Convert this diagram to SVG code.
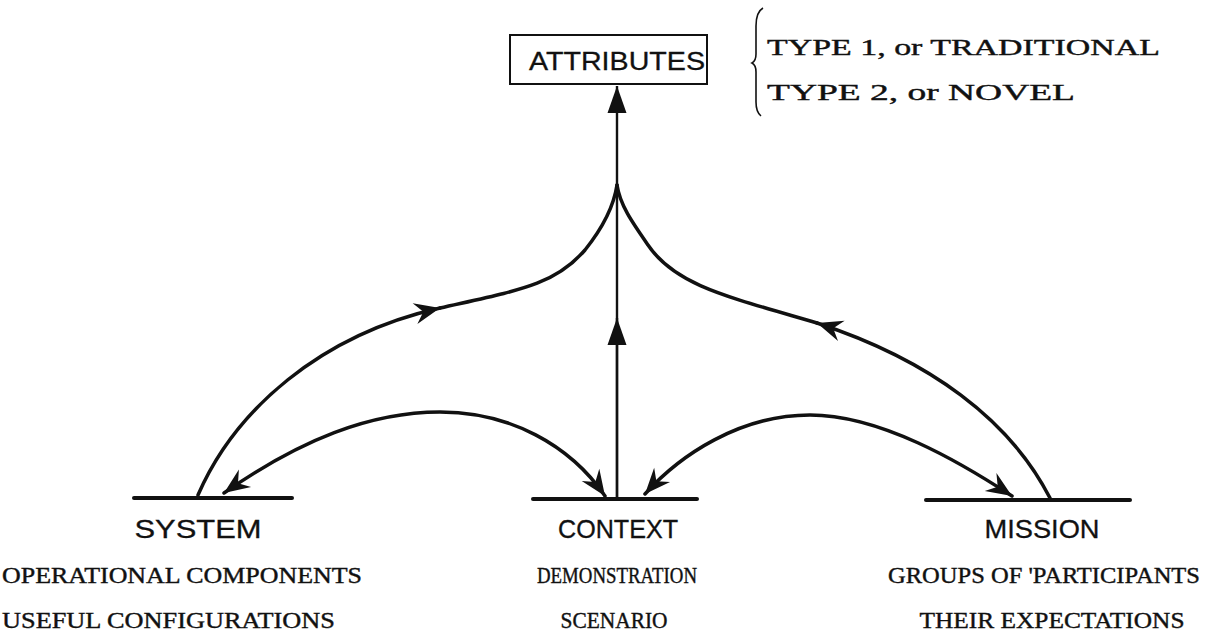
<svg xmlns="http://www.w3.org/2000/svg" width="1211" height="632" viewBox="0 0 1211 632">
<style>
.t{font-family:"Liberation Serif","Times New Roman",serif;font-size:23px;fill:#111;stroke:#111;stroke-width:0.4}
.h{font-family:"Liberation Sans",Arial,sans-serif;font-size:25px;fill:#111;stroke:#111;stroke-width:0.3}
.c{fill:none;stroke:#111;stroke-width:3.5;stroke-linecap:round}
.v{fill:none;stroke:#111;stroke-width:2.4}
.bar{stroke:#111;stroke-width:4;stroke-linecap:round}
</style>
<defs>
<marker id="ah" markerUnits="userSpaceOnUse" markerWidth="32" markerHeight="32" viewBox="-26 -13 30 26" refX="0" refY="0" orient="auto-start-reverse">
<path d="M0,0 L-24,-10 L-16,0 L-24,10 Z" fill="#111"/>
</marker>
<marker id="tri" markerUnits="userSpaceOnUse" markerWidth="32" markerHeight="32" viewBox="-28 -13 32 26" refX="0" refY="0" orient="auto">
<path d="M0,0 L-27,-9.5 L-27,9.5 Z" fill="#111"/>
</marker>
</defs>
<g id="attributes">
<rect x="510" y="35" width="197" height="49" fill="#fff" stroke="#111" stroke-width="2"/>
<text class="h" x="617" y="70" text-anchor="middle" textLength="176" lengthAdjust="spacingAndGlyphs">ATTRIBUTES</text>
</g>
<g id="types">
<path d="M763,8 Q756,12 756,26 L756,54 Q756,61 752,63 Q756,65 756,72 L756,102 Q756,112 761,116" fill="none" stroke="#111" stroke-width="1.6"/>
<text class="t" x="767" y="55" textLength="393" lengthAdjust="spacingAndGlyphs">TYPE 1, or TRADITIONAL</text>
<text class="t" x="767" y="100" textLength="308" lengthAdjust="spacingAndGlyphs">TYPE 2, or NOVEL</text>
</g>
<g id="system">
<line class="bar" x1="134" y1="498" x2="292" y2="498"/>
<text class="h" x="198" y="538" text-anchor="middle" textLength="127" lengthAdjust="spacingAndGlyphs">SYSTEM</text>
<text class="t" x="2" y="583" textLength="360" lengthAdjust="spacingAndGlyphs">OPERATIONAL COMPONENTS</text>
<text class="t" x="2" y="628" textLength="333" lengthAdjust="spacingAndGlyphs">USEFUL CONFIGURATIONS</text>
</g>
<g id="context">
<line class="bar" x1="533" y1="499" x2="697" y2="499"/>
<text class="h" x="618" y="538" text-anchor="middle" textLength="120" lengthAdjust="spacingAndGlyphs">CONTEXT</text>
<text class="t" x="617" y="583" text-anchor="middle" textLength="160" lengthAdjust="spacingAndGlyphs">DEMONSTRATION</text>
<text class="t" x="614" y="628" text-anchor="middle" textLength="107" lengthAdjust="spacingAndGlyphs">SCENARIO</text>
</g>
<g id="mission">
<line class="bar" x1="926" y1="500" x2="1130" y2="500"/>
<text class="h" x="1042" y="538" text-anchor="middle" textLength="115" lengthAdjust="spacingAndGlyphs">MISSION</text>
<text class="t" x="1044" y="583" text-anchor="middle" textLength="312" lengthAdjust="spacingAndGlyphs">GROUPS OF 'PARTICIPANTS</text>
<text class="t" x="1052" y="628" text-anchor="middle" textLength="265" lengthAdjust="spacingAndGlyphs">THEIR EXPECTATIONS</text>
</g>
<g id="connectors">
<line class="v" x1="617" y1="498" x2="617" y2="86" marker-end="url(#tri)"/>
<line class="v" x1="617" y1="498" x2="617" y2="318" marker-end="url(#tri)"/>
<path class="c" d="M198,495 C235,410 320,335 440,308" marker-end="url(#ah)"/>
<path class="c" d="M440,308 C520,290 555,285 585,250 C605,225 614,205 617,185"/>
<path class="c" d="M1050,498 C1010,420 930,360 817,323" marker-end="url(#ah)"/>
<path class="c" d="M817,323 C725,296 675,285 648,245 C632,222 620,205 617,185"/>
<path class="c" d="M224,493 C300,440 370,412 440,412 C510,412 570,445 605,496" marker-start="url(#ah)" marker-end="url(#ah)"/>
<path class="c" d="M645,494 C680,455 740,415 810,415 C880,415 960,462 1012,496" marker-start="url(#ah)" marker-end="url(#ah)"/>
</g>
</svg>
